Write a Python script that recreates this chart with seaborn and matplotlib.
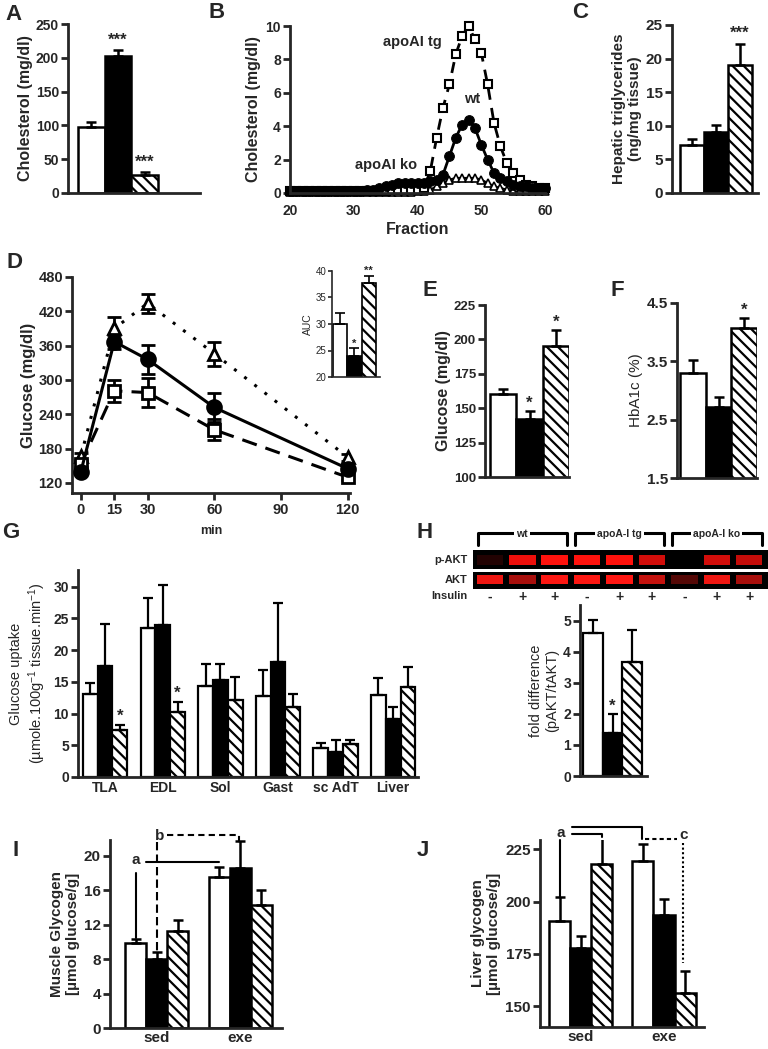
import numpy as np
import pandas as pd
import seaborn as sns
import matplotlib.pyplot as plt
from matplotlib.patches import Rectangle

sns.set_style('ticks')
plt.rcParams['font.family'] = ['Liberation Sans', 'DejaVu Sans']
plt.rcParams['font.weight'] = 'bold'
plt.rcParams['axes.labelweight'] = 'bold'
plt.rcParams['mathtext.default'] = 'regular'
plt.rcParams['hatch.linewidth'] = 1.6

# ---------------- data ----------------
genotypes = ['wt', 'apoAI tg', 'apoAI ko']
bar_colors = ['white', 'black', 'white']
HATCH = '\\\\\\'

# A: plasma cholesterol
chol_mean = [97, 203, 27]
chol_err = [8, 9, 4]

# B: FPLC profile
fractions = np.arange(20, 61)
fplc_wt = [0.1, 0.1, 0.1, 0.1, 0.1, 0.1, 0.1, 0.1, 0.1, 0.1, 0.1, 0.1, 0.15, 0.2,
           0.3, 0.4, 0.5, 0.6, 0.6, 0.6, 0.6, 0.6, 0.7, 0.8, 1.1, 2.2, 3.3, 4.1,
           4.4, 3.9, 2.9, 2.0, 1.2, 0.9, 0.7, 0.5, 0.4, 0.4, 0.3, 0.3, 0.3]
fplc_tg = [0.1, 0.1, 0.1, 0.1, 0.1, 0.1, 0.1, 0.1, 0.1, 0.1, 0.1, 0.1, 0.1, 0.1,
           0.1, 0.1, 0.15, 0.2, 0.2, 0.2, 0.2, 0.3, 1.3, 3.3, 5.1, 6.5, 8.3, 9.4,
           10.0, 9.2, 8.4, 6.5, 4.2, 2.8, 1.8, 1.2, 0.8, 0.5, 0.4, 0.3, 0.3]
fplc_ko = [0.05, 0.05, 0.05, 0.05, 0.05, 0.05, 0.05, 0.05, 0.05, 0.05, 0.05, 0.05,
           0.05, 0.05, 0.05, 0.05, 0.05, 0.05, 0.05, 0.05, 0.1, 0.1, 0.2, 0.4, 0.6,
           0.8, 0.9, 0.9, 0.9, 0.9, 0.8, 0.6, 0.4, 0.3, 0.2, 0.1, 0.1, 0.1, 0.1,
           0.1, 0.1]

# C: hepatic triglycerides
tg_mean = [7.2, 9.1, 19.0]
tg_err = [0.8, 1.0, 3.2]

# D: glucose tolerance test
gtt_time = [0, 15, 30, 60, 120]
gtt_wt = [140, 367, 336, 252, 145]
gtt_wt_err = [5, 12, 26, 26, 6]
gtt_tg = [153, 281, 278, 213, 130]
gtt_tg_err = [5, 19, 25, 18, 5]
gtt_ko = [167, 390, 434, 346, 165]
gtt_ko_err = [6, 20, 17, 21, 6]
auc_mean = [30.0, 23.9, 37.8]
auc_err = [2.0, 1.5, 1.3]

# E, F
glc_mean = [160, 142, 195]
glc_err = [4, 6, 12]
hba_mean = [3.3, 2.72, 4.07]
hba_err = [0.22, 0.17, 0.17]

# G: glucose uptake
tissues = ['TLA', 'EDL', 'Sol', 'Gast', 'sc AdT', 'Liver']
upt_wt = [13.1, 23.4, 14.3, 12.8, 4.5, 12.9]
upt_tg = [17.5, 24.0, 15.3, 18.1, 4.0, 9.1]
upt_ko = [7.4, 10.2, 12.2, 11.1, 5.2, 14.2]
upt_wt_err = [1.7, 4.8, 3.5, 4.1, 0.8, 2.7]
upt_tg_err = [6.6, 6.3, 2.5, 9.3, 1.8, 1.9]
upt_ko_err = [0.8, 1.6, 3.6, 1.9, 0.7, 3.2]

# H: western blot + quantification
lanes = np.arange(9)
pakt_int = [0.12, 0.85, 1.0, 1.0, 0.95, 0.75, 0.0, 0.75, 0.7]
akt_int = [0.85, 0.6, 0.9, 0.9, 0.92, 0.7, 0.3, 0.85, 0.6]
insulin = ['-', '+', '+', '-', '+', '+', '-', '+', '+']
blot_groups = ['wt', 'apoA-I tg', 'apoA-I ko']
akt_mean = [4.6, 1.37, 3.66]
akt_err = [0.42, 0.62, 1.04]

# I, J: glycogen
conditions = ['sed', 'exe']
mgly_wt = [9.9, 17.5]
mgly_tg = [8.0, 18.5]
mgly_ko = [11.3, 14.3]
mgly_wt_err = [0.4, 1.2]
mgly_tg_err = [0.8, 3.2]
mgly_ko_err = [1.2, 1.7]
lgly_wt = [190.8, 219.4]
lgly_tg = [177.8, 193.4]
lgly_ko = [218.0, 156.4]
lgly_wt_err = [11.3, 8.1]
lgly_tg_err = [5.9, 7.9]
lgly_ko_err = [12.2, 10.3]

# ---------------- helpers ----------------
W, H = 768, 1049
fig = plt.figure(figsize=(W / 100, H / 100), dpi=100)


def px_axes(x0, y0, x1, y1):
    return fig.add_axes([x0 / W, 1 - y1 / H, (x1 - x0) / W, (y1 - y0) / H])


def prism(ax, fs=9.5, xticks=False):
    sns.despine(ax=ax)
    for s in ['left', 'bottom']:
        ax.spines[s].set_linewidth(2)
    ax.tick_params(axis='y', width=2, length=5, labelsize=fs, pad=1.5)
    if xticks:
        ax.tick_params(axis='x', width=2, length=5, labelsize=fs, pad=2)
    else:
        ax.tick_params(axis='x', length=0, labelsize=fs, pad=3)


def draw_bars(ax, cats, series, errs, width, lw=1.8):
    rows = []
    for g, vals in zip(genotypes, series):
        for c, v in zip(cats, vals):
            rows.append({'cat': c, 'geno': g, 'val': v})
    df = pd.DataFrame(rows)
    sns.barplot(data=df, x='cat', y='val', hue='geno', order=cats,
                hue_order=genotypes, palette=bar_colors, width=width,
                edgecolor='black', linewidth=lw, errorbar=None, legend=False,
                dodge=True, ax=ax)
    tops = []
    for k, cont in enumerate(list(ax.containers)):
        row = []
        for bar, e in zip(cont, errs[k]):
            if k == 2:
                bar.set_hatch(HATCH)
            x = bar.get_x() + bar.get_width() / 2
            h = bar.get_height()
            ax.errorbar([x], [h], yerr=[[0], [e]], fmt='none', ecolor='black',
                        elinewidth=lw, capsize=3.5, capthick=lw, zorder=1)
            row.append((x, h + e))
        tops.append(row)
    ax.set_xlabel('')
    ax.set_ylabel('')
    return tops


def star(ax, pos, s, dy, fs=12):
    ax.text(pos[0], pos[1] + dy, s, ha='center', va='bottom', fontsize=fs,
            fontweight='bold')


def panel_letter(x, y, s):
    fig.text(x / W, 1 - y / H, s, fontsize=16, fontweight='bold',
             ha='center', va='center')


# ---------------- A ----------------
ax = px_axes(68, 24, 200, 193)
tops = draw_bars(ax, [''], [[v] for v in chol_mean], [[e] for e in chol_err], 3)
ax.set_xlim(-1.875, 3.07)
ax.set_ylim(0, 250)
ax.set_yticks([0, 50, 100, 150, 200, 250])
ax.set_ylabel('Cholesterol (mg/dl)', fontsize=11.5, labelpad=2)
ax.set_xticks([])
prism(ax, 10)
star(ax, tops[1][0], '***', 3)
star(ax, tops[2][0], '***', 3)

# ---------------- B ----------------
ax = px_axes(290, 26, 545, 193)
sns.lineplot(x=fractions, y=fplc_ko, ax=ax, color='black', lw=1.5,
             marker='^', markersize=6, markerfacecolor='white',
             markeredgecolor='black', markeredgewidth=1.2, clip_on=False)
sns.lineplot(x=fractions, y=fplc_tg, ax=ax, color='black', lw=2,
             linestyle=(0, (4, 3)), marker='s', markersize=6,
             markerfacecolor='white', markeredgecolor='black',
             markeredgewidth=1.5, clip_on=False)
sns.lineplot(x=fractions, y=fplc_wt, ax=ax, color='black', lw=2,
             marker='o', markersize=7, markerfacecolor='black',
             markeredgecolor='black', clip_on=False)
ax.set_xlim(20, 60)
ax.set_ylim(0, 10)
ax.set_xticks([20, 30, 40, 50, 60])
ax.set_yticks([0, 2, 4, 6, 8, 10])
ax.set_xlabel('Fraction', fontsize=11.5, labelpad=3)
ax.set_ylabel('Cholesterol (mg/dl)', fontsize=11.5, labelpad=3)
prism(ax, 10, xticks=True)
ax.spines['bottom'].set_bounds(20, 60)
ax.tick_params(axis='x', length=0, pad=8)
ax.text(39.2, 9.06, 'apoAI tg', ha='center', va='center', fontsize=10.5)
ax.text(48.5, 5.6, 'wt', ha='center', va='center', fontsize=10.5)
ax.text(35.1, 1.7, 'apoAI ko', ha='center', va='center', fontsize=10.5)

# ---------------- C ----------------
ax = px_axes(672, 25, 758, 193)
tops = draw_bars(ax, [''], [[v] for v in tg_mean], [[e] for e in tg_err], 3)
ax.set_xlim(-1.83, 1.75)
ax.set_ylim(0, 25)
ax.set_yticks([0, 5, 10, 15, 20, 25])
ax.set_xticks([])
ax.set_ylabel('Hepatic triglycerides\n(ng/mg tissue)', fontsize=11,
              labelpad=3)
prism(ax, 11)
star(ax, tops[2][0], '***', 0.5)

# ---------------- D ----------------
ax = px_axes(72, 277, 350, 493)
for vals, errs, mk, ls, mfc, ms in [
        (gtt_ko, gtt_ko_err, '^', (0, (1, 3.2)), 'white', 9),
        (gtt_tg, gtt_tg_err, 's', (0, (5, 3)), 'white', 8),
        (gtt_wt, gtt_wt_err, 'o', '-', 'black', 10)]:
    ax.errorbar(gtt_time, vals, yerr=errs, fmt='none', ecolor='black',
                elinewidth=2, capsize=5, capthick=2, zorder=2)
    sns.lineplot(x=gtt_time, y=vals, ax=ax, color='black', lw=2.2,
                 linestyle=ls, marker=mk, markersize=ms, markerfacecolor=mfc,
                 markeredgecolor='black', markeredgewidth=2, zorder=3,
                 clip_on=False)
ax.set_xlim(-4, 121)
ax.set_ylim(102.5, 480)
ax.set_xticks([0, 15, 30, 60, 90, 120])
ax.set_yticks([120, 180, 240, 300, 360, 420, 480])
ax.set_xlabel('min', fontsize=9, labelpad=6)
ax.set_ylabel('Glucose (mg/dl)', fontsize=12, labelpad=2)
prism(ax, 10.5, xticks=True)
ax.spines['left'].set_bounds(102.5, 480)

# inset AUC
ax = px_axes(332, 271, 380, 377)
tops = draw_bars(ax, [''], [[v] for v in auc_mean], [[e] for e in auc_err], 3,
                 lw=1.2)
ax.set_xlim(-1.57, 1.78)
ax.set_ylim(20, 40)
ax.set_yticks([20, 25, 30, 35, 40])
ax.set_xticks([])
ax.set_ylabel('AUC', fontsize=7.5, fontweight='normal', labelpad=2)
sns.despine(ax=ax)
for s in ['left', 'bottom']:
    ax.spines[s].set_linewidth(1.2)
ax.tick_params(axis='y', width=1.2, length=3, labelsize=7, pad=1)
ax.tick_params(axis='x', length=0)
for t in ax.get_yticklabels():
    t.set_fontweight('normal')
star(ax, tops[1][0], '*', 0.0, fs=8)
star(ax, tops[2][0], '**', 0.0, fs=8)

# ---------------- E ----------------
ax = px_axes(485, 305, 569, 477)
tops = draw_bars(ax, [''], [[v] for v in glc_mean], [[e] for e in glc_err], 3)
ax.set_xlim(-1.69, 1.5)
ax.set_ylim(100, 225)
ax.set_yticks([100, 125, 150, 175, 200, 225])
ax.set_xticks([])
ax.set_ylabel('Glucose (mg/dl)', fontsize=11.5, labelpad=2)
prism(ax, 9.5)
star(ax, tops[1][0], '*', 0)
star(ax, tops[2][0], '*', 0)

# ---------------- F ----------------
ax = px_axes(677, 303, 757, 478)
tops = draw_bars(ax, [''], [[v] for v in hba_mean], [[e] for e in hba_err], 3)
ax.set_xlim(-1.62, 1.5)
ax.set_ylim(1.5, 4.5)
ax.set_yticks([1.5, 2.5, 3.5, 4.5])
ax.set_xticks([])
ax.set_ylabel('HbA1c (%)', fontsize=11, fontweight='normal', labelpad=3)
prism(ax, 11)
star(ax, tops[2][0], '*', 0)

# ---------------- G ----------------
ax = px_axes(78, 570, 418, 777)
tops = draw_bars(ax, tissues, [upt_wt, upt_tg, upt_ko],
                 [upt_wt_err, upt_tg_err, upt_ko_err], 0.77, lw=1.6)
ax.set_xlim(-0.47, 5.43)
ax.set_ylim(0, 32.6)
ax.set_yticks([0, 5, 10, 15, 20, 25, 30])
ax.set_ylabel('Glucose uptake\n(µmole.100g$^{-1}$ tissue.min$^{-1}$)',
              fontsize=10.5, fontweight='normal', labelpad=4)
prism(ax, 10)
star(ax, tops[2][0], '*', 0.2)
star(ax, tops[2][1], '*', 0.2)

# ---------------- H ----------------
ax = px_axes(405, 528, 768, 603)
ax.set_xlim(-2.62, 8.58)
ax.set_ylim(603, 528)
ax.axis('off')
ax.add_patch(Rectangle((-0.52, 550), 9.1, 19, color='black', lw=0))
ax.add_patch(Rectangle((-0.52, 572), 9.1, 17, color='black', lw=0))
ax.bar(lanes, 10, bottom=555.5, width=0.82, lw=0,
       color=[(min(1, 1.1 * i), 0.07 * i, 0.05 * i) for i in pakt_int])
ax.bar(lanes, 9, bottom=575.5, width=0.82, lw=0,
       color=[(min(1, 1.1 * i), 0.1 * i, 0.08 * i) for i in akt_int])
for k, g in enumerate(blot_groups):
    x0, x1 = 3 * k - 0.37, 3 * k + 2.38
    ax.plot([x0, x0, x1, x1], [545, 533.5, 533.5, 545], color='black', lw=2.2)
    ax.text(3 * k + 1, 534, g, ha='center', va='center', fontsize=7.5,
            bbox=dict(facecolor='white', edgecolor='none', pad=1.5))
ax.text(-0.68, 560, 'p-AKT', ha='right', va='center', fontsize=8)
ax.text(-0.68, 580.5, 'AKT', ha='right', va='center', fontsize=8)
ax.text(-0.68, 596.5, 'Insulin', ha='right', va='center', fontsize=8)
for x, s in zip(lanes, insulin):
    ax.text(x, 597, s, ha='center', va='center', fontsize=10)

ax = px_axes(580, 605, 647, 776)
tops = draw_bars(ax, [''], [[v] for v in akt_mean], [[e] for e in akt_err], 3,
                 lw=1.6)
ax.set_xlim(-1.65, 1.75)
ax.set_ylim(0, 5.5)
ax.set_yticks([0, 1, 2, 3, 4, 5])
ax.set_xticks([])
ax.set_ylabel('fold difference\n(pAKT/tAKT)', fontsize=10.5,
              fontweight='normal', labelpad=3)
prism(ax, 10)
star(ax, tops[1][0], '*', 0)

# ---------------- I ----------------
ax = px_axes(110, 840, 282, 1028)
tops = draw_bars(ax, conditions, [mgly_wt, mgly_tg, mgly_ko],
                 [mgly_wt_err, mgly_tg_err, mgly_ko_err], 0.76)
ax.set_xlim(-0.56, 1.5)
ax.set_ylim(0, 21.8)
ax.set_yticks([0, 4, 8, 12, 16, 20])
ax.set_ylabel('Muscle Glycogen\n[µmol glucose/g]', fontsize=11, labelpad=3)
prism(ax, 11)
ax.tick_params(axis='x', labelsize=11, pad=2)
ax.text(-0.253, 19.5, 'a', ha='center', va='center', fontsize=11)
ax.plot([-0.253, -0.253], [18.0, 10.4], color='black', lw=1.5, clip_on=False)
ax.plot([-0.124, 0.74], [19.3, 19.3], color='black', lw=1.5, clip_on=False)
ax.text(0.036, 22.3, 'b', ha='center', va='center', fontsize=11)
ax.plot([0.117, 0.99, 0.99], [22.35, 22.35, 21.5], color='black', lw=1.5,
        ls=(0, (3, 2)), clip_on=False)
ax.plot([0.004, 0.004], [21.6, 8.9], color='black', lw=1.5,
        ls=(0, (4, 2)), clip_on=False)

# ---------------- J ----------------
ax = px_axes(540, 840, 704, 1027)
tops = draw_bars(ax, conditions, [lgly_wt, lgly_tg, lgly_ko],
                 [lgly_wt_err, lgly_tg_err, lgly_ko_err], 0.76)
ax.set_xlim(-0.49, 1.48)
ax.set_ylim(140.1, 229.4)
ax.set_yticks([150, 175, 200, 225])
ax.set_ylabel('Liver glycogen\n[µmol glucose/g]', fontsize=11, labelpad=3)
prism(ax, 11)
ax.tick_params(axis='x', labelsize=11, pad=2)
ax.text(-0.24, 232.8, 'a', ha='center', va='center', fontsize=11)
ax.plot([-0.255, -0.255], [229.4, 202.1], color='black', lw=1.5, clip_on=False)
ax.plot([-0.10, 0.734, 0.734], [235.5, 235.5, 229.8], color='black', lw=1.5,
        clip_on=False)
ax.plot([-0.10, 0.255, 0.255], [232.3, 232.3, 230.7], color='black', lw=1.5,
        clip_on=False)
ax.plot([0.775, 1.153], [229.8, 229.8], color='black', lw=1.5,
        ls=(0, (2, 1.5)), clip_on=False)
ax.text(1.233, 232.0, 'c', ha='center', va='center', fontsize=11)
ax.plot([1.233, 1.233], [228.0, 170.7], color='black', lw=1.5,
        ls=(0, (1, 1.2)), clip_on=False)

# ---------------- panel letters ----------------
for x, y, s in [(13, 14, 'A'), (217, 13, 'B'), (580, 12, 'C'), (14, 262, 'D'),
                (430, 290, 'E'), (617, 290, 'F'), (11, 532, 'G'),
                (425, 532, 'H'), (16, 850, 'I'), (423, 851, 'J')]:
    panel_letter(x, y, s)

fig.savefig('out.png', dpi=100)
